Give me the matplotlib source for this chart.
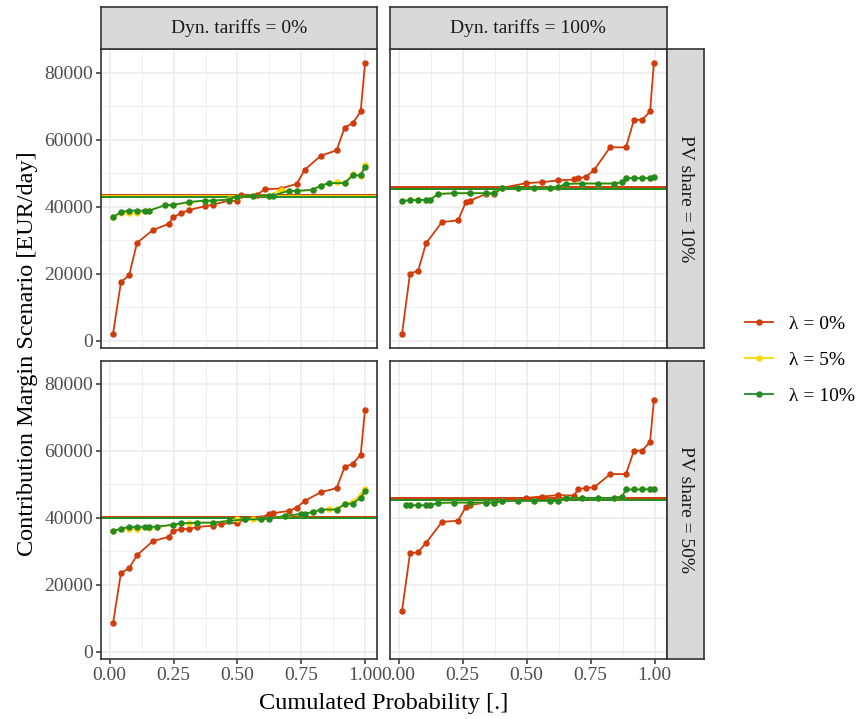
import matplotlib
matplotlib.use("Agg")
import matplotlib.pyplot as plt
from matplotlib.lines import Line2D

plt.rcParams['font.family'] = ['Liberation Serif', 'DejaVu Serif']

# cumulated probability / contribution margin
# top-left: PV share 10%, dyn. tariffs 0%
p_tl_0 = [0.013, 0.044, 0.076, 0.107, 0.169, 0.232, 0.247, 0.279, 0.310, 0.372, 0.404, 0.466, 0.497,
          0.513, 0.576, 0.607, 0.669, 0.732, 0.763, 0.826, 0.888, 0.919, 0.951, 0.982, 0.999]
v_tl_0 = [2000, 17500, 19500, 29200, 33000, 34900, 36800, 38000, 39000, 40100, 40600, 41800, 41700,
          43500, 43500, 45200, 45400, 46800, 51000, 55200, 56800, 63600, 64900, 68400, 82800]
p_tl_5 = [0.013, 0.044, 0.076, 0.107, 0.138, 0.154, 0.216, 0.247, 0.310, 0.372, 0.404, 0.466, 0.497,
          0.560, 0.622, 0.669, 0.700, 0.732, 0.794, 0.826, 0.888, 0.919, 0.951, 0.982, 0.999]
v_tl_5 = [36800, 38200, 38000, 38000, 38700, 38800, 40400, 40500, 41200, 41800, 41800, 42200, 43000,
          43200, 43300, 44900, 44700, 44700, 45000, 46300, 47400, 47000, 49700, 49200, 52500]
p_tl_10 = [0.013, 0.044, 0.076, 0.107, 0.138, 0.154, 0.216, 0.247, 0.310, 0.372, 0.404, 0.466, 0.497,
           0.560, 0.622, 0.638, 0.700, 0.732, 0.794, 0.826, 0.857, 0.919, 0.951, 0.982, 0.999]
v_tl_10 = [36800, 38400, 38800, 38800, 38800, 38800, 40400, 40500, 41400, 41800, 41800, 42100, 43000,
           43200, 43300, 43300, 44700, 44700, 45000, 46300, 47000, 47000, 49300, 49300, 51900]

# top-right: PV share 10%, dyn. tariffs 100%
p_tr_0 = [0.013, 0.044, 0.076, 0.107, 0.169, 0.232, 0.263, 0.279, 0.341, 0.372, 0.404, 0.497, 0.560,
          0.622, 0.685, 0.700, 0.732, 0.763, 0.826, 0.888, 0.919, 0.951, 0.982, 0.997]
v_tr_0 = [2000, 20000, 20900, 29100, 35400, 35900, 41500, 41800, 43800, 43800, 45600, 47000, 47300,
          47800, 48100, 48400, 48900, 50900, 57700, 57700, 65900, 65900, 68400, 82900]
p_tr_5 = [0.013, 0.044, 0.076, 0.107, 0.122, 0.154, 0.216, 0.279, 0.341, 0.372, 0.404, 0.466, 0.529,
          0.591, 0.622, 0.654, 0.716, 0.779, 0.841, 0.872, 0.888, 0.919, 0.951, 0.982, 0.997]
v_tr_5 = [41700, 41900, 42000, 42000, 42000, 43800, 44000, 44000, 44000, 44000, 45500, 45600, 45600,
          45600, 45800, 46800, 46900, 46900, 46900, 47300, 48500, 48500, 48500, 48500, 48800]
p_tr_10 = [0.013, 0.044, 0.076, 0.107, 0.122, 0.154, 0.216, 0.279, 0.341, 0.372, 0.404, 0.466, 0.529,
           0.591, 0.622, 0.654, 0.716, 0.779, 0.841, 0.872, 0.888, 0.919, 0.951, 0.982, 0.997]
v_tr_10 = [41700, 41900, 42000, 42000, 42000, 43800, 44000, 44000, 44000, 44000, 45500, 45600, 45600,
           45600, 45800, 46800, 46900, 46900, 46900, 47300, 48500, 48500, 48500, 48500, 48800]

# bottom-left: PV share 50%, dyn. tariffs 0%
p_bl_0 = [0.013, 0.044, 0.076, 0.107, 0.169, 0.232, 0.247, 0.279, 0.310, 0.341, 0.404, 0.435, 0.497,
          0.529, 0.591, 0.622, 0.638, 0.700, 0.732, 0.763, 0.826, 0.888, 0.919, 0.951, 0.982, 0.999]
v_bl_0 = [8500, 23600, 25000, 28900, 33100, 34400, 36100, 36700, 36700, 37300, 37700, 38300, 38500,
          39600, 40100, 41100, 41400, 42100, 43100, 45100, 47700, 48900, 55200, 56200, 58900, 72300]
p_bl_5 = [0.013, 0.044, 0.076, 0.107, 0.154, 0.185, 0.247, 0.310, 0.341, 0.404, 0.497, 0.560, 0.591,
          0.685, 0.747, 0.794, 0.857, 0.888, 0.919, 0.951, 0.982, 0.999]
v_bl_5 = [36100, 36700, 36800, 36700, 36900, 37300, 37900, 38400, 38600, 38600, 39600, 39600, 39600,
          40500, 41100, 41700, 42800, 42700, 44300, 44900, 46900, 48500]
p_bl_10 = [0.013, 0.044, 0.076, 0.107, 0.138, 0.154, 0.185, 0.247, 0.279, 0.341, 0.404, 0.466, 0.529,
           0.591, 0.622, 0.685, 0.747, 0.763, 0.794, 0.826, 0.888, 0.919, 0.951, 0.982, 0.999]
v_bl_10 = [36100, 36800, 37300, 37300, 37400, 37400, 37400, 38000, 38400, 38600, 38600, 39100, 39600,
           39600, 39800, 40600, 41200, 41300, 41800, 42500, 42500, 44100, 44300, 46100, 48000]

# bottom-right: PV share 50%, dyn. tariffs 100%
p_br_0 = [0.013, 0.044, 0.076, 0.107, 0.169, 0.232, 0.263, 0.279, 0.341, 0.372, 0.404, 0.497, 0.560,
          0.622, 0.685, 0.700, 0.732, 0.763, 0.826, 0.888, 0.919, 0.951, 0.982, 0.997]
v_br_0 = [12300, 29400, 29800, 32600, 38800, 39200, 43400, 43900, 44600, 44600, 45100, 46000, 46400,
          46800, 46700, 48500, 49000, 49100, 53100, 53100, 60100, 60100, 62700, 75200]
p_br_5 = [0.029, 0.044, 0.076, 0.107, 0.122, 0.154, 0.216, 0.279, 0.341, 0.372, 0.404, 0.466, 0.529,
          0.591, 0.622, 0.654, 0.716, 0.779, 0.841, 0.872, 0.888, 0.919, 0.951, 0.982, 0.997]
v_br_5 = [43800, 43800, 43800, 43800, 43800, 44500, 44600, 44600, 44600, 44600, 45000, 45100, 45100,
          45100, 45100, 46000, 46000, 46000, 46000, 46400, 48500, 48500, 48500, 48600, 48600]
p_br_10 = [0.029, 0.044, 0.076, 0.107, 0.122, 0.154, 0.216, 0.279, 0.341, 0.372, 0.404, 0.466, 0.529,
           0.591, 0.622, 0.654, 0.716, 0.779, 0.841, 0.872, 0.888, 0.919, 0.951, 0.982, 0.997]
v_br_10 = [43800, 43800, 43800, 43800, 43800, 44500, 44600, 44600, 44600, 44600, 45000, 45100, 45100,
           45100, 45100, 46000, 46000, 46000, 46000, 46400, 48500, 48500, 48500, 48600, 48600]

# expected values (horizontal lines) per panel: lambda 0%, 5%, 10%
mean_tl = [43500, 43100, 43000]
mean_tr = [46000, 45400, 45400]
mean_bl = [40300, 40000, 39900]
mean_br = [46000, 45500, 45500]

lambda_labels = ['λ = 0%', 'λ = 5%', 'λ = 10%']
colors = ['#D03C0A', '#FFD700', '#228B22']
col_labels = ['Dyn. tariffs = 0%', 'Dyn. tariffs = 100%']
row_labels = ['PV share = 10%', 'PV share = 50%']
x_ticks = [0, 0.25, 0.5, 0.75, 1.0]
x_ticklabels = ['0.00', '0.25', '0.50', '0.75', '1.00']
y_ticks = [0, 20000, 40000, 60000, 80000]

panels = {
    (0, 0): ([(p_tl_0, v_tl_0), (p_tl_5, v_tl_5), (p_tl_10, v_tl_10)], mean_tl),
    (0, 1): ([(p_tr_0, v_tr_0), (p_tr_5, v_tr_5), (p_tr_10, v_tr_10)], mean_tr),
    (1, 0): ([(p_bl_0, v_bl_0), (p_bl_5, v_bl_5), (p_bl_10, v_bl_10)], mean_bl),
    (1, 1): ([(p_br_0, v_br_0), (p_br_5, v_br_5), (p_br_10, v_br_10)], mean_br),
}

W, H = 858, 719
fig = plt.figure(figsize=(W / 100, H / 100), dpi=100)


def box(x0, y0, x1, y1):
    return [x0 / W, 1 - y1 / H, (x1 - x0) / W, (y1 - y0) / H]


col_x = [(101, 377.3), (390, 666.7)]
row_y = [(49.3, 347.7), (360.7, 659)]
dark = '#333333'

for (r, c), (series, means) in panels.items():
    x0, x1 = col_x[c]
    y0, y1 = row_y[r]
    ax = fig.add_axes(box(x0, y0, x1, y1))
    ax.set_xlim(-0.034, 1.047)
    ax.set_ylim(-2100, 86950)
    ax.set_xticks(x_ticks)
    ax.set_xticks([0.125, 0.375, 0.625, 0.875], minor=True)
    ax.set_yticks(y_ticks)
    ax.set_yticks([10000, 30000, 50000, 70000], minor=True)
    ax.grid(True, which='major', color='#EBEBEB', lw=1.1)
    ax.grid(True, which='minor', color='#EBEBEB', lw=0.55)
    ax.set_axisbelow(True)
    for sp in ax.spines.values():
        sp.set_color(dark)
        sp.set_linewidth(1.2)
    ax.tick_params(which='minor', length=0)
    ax.tick_params(which='major', length=3.5, width=1.1, color=dark,
                   labelsize=14, labelcolor='#4D4D4D', pad=2)
    if r == 1:
        ax.set_xticklabels(x_ticklabels)
    else:
        ax.tick_params(axis='x', which='major', length=0, labelbottom=False)
    if c == 0:
        ax.set_yticklabels([str(t) for t in y_ticks])
    else:
        ax.tick_params(axis='y', which='major', length=0, labelleft=False)

    for k in range(3):
        ax.axhline(means[k], color=colors[k], lw=1.4, zorder=2)
    for k in range(3):
        p, v = series[k]
        ax.plot(p, v, color=colors[k], lw=1.3, marker='o', ms=3.6, zorder=3)

    # column strips on top
    if r == 0:
        sx = fig.add_axes(box(x0, 7.3, x1, 49.3))
        sx.set_facecolor('#D9D9D9')
        sx.set_xticks([])
        sx.set_yticks([])
        for sp in sx.spines.values():
            sp.set_color(dark)
            sp.set_linewidth(1.2)
        sx.text(0.5, 0.5, col_labels[c], ha='center', va='center',
                fontsize=14, color='#1A1A1A', transform=sx.transAxes)
    # row strips on the right
    if c == 1:
        sy = fig.add_axes(box(666.7, y0, 704.3, y1))
        sy.set_facecolor('#D9D9D9')
        sy.set_xticks([])
        sy.set_yticks([])
        for sp in sy.spines.values():
            sp.set_color(dark)
            sp.set_linewidth(1.2)
        sy.text(0.5, 0.5, row_labels[r], ha='center', va='center', rotation=-90,
                fontsize=14, color='#1A1A1A', transform=sy.transAxes)

fig.text(384 / W, 1 - 703 / H, 'Cumulated Probability [.]', ha='center', va='center', fontsize=17.5)
fig.text(28 / W, 1 - 354 / H, 'Contribution Margin Scenario [EUR/day]', ha='center', va='center',
         rotation=90, fontsize=17.5)

handles = [Line2D([], [], color=colors[k], lw=1.3, marker='o', ms=3.6) for k in range(3)]
fig.legend(handles, lambda_labels, loc='center left', bbox_to_anchor=(745 / W, 1 - 360 / H),
           frameon=False, fontsize=14, handlelength=1.45, labelspacing=0.95, handletextpad=0.8,
           borderpad=0, borderaxespad=0)

fig.savefig('out.png', dpi=100)
